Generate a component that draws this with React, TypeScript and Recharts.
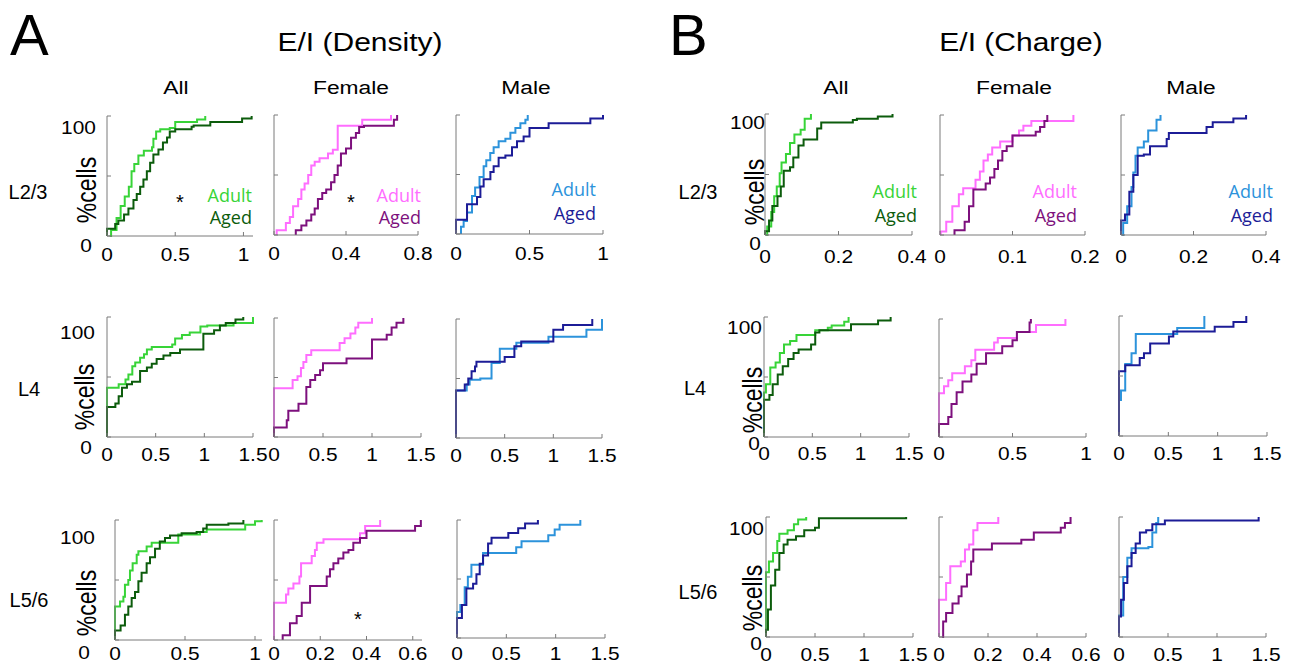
import React from "react";
import { LineChart, Line, XAxis, YAxis } from "recharts";

type Pt = [number, number]; // [E/I ratio, cumulative % of cells]

// ---- E/I (Density) ----
const dAllL23Adult: Pt[] = [[0.02, 0], [0.03, 5], [0.07, 15], [0.1, 25], [0.13, 33], [0.16, 41], [0.18, 54], [0.2, 60], [0.23, 67], [0.27, 71], [0.33, 74], [0.34, 81], [0.36, 87], [0.39, 89], [0.46, 90], [0.5, 95], [0.66, 97], [0.72, 100]];
const dAllL23Aged: Pt[] = [[0, 0], [0, 6], [0.06, 10], [0.083, 13], [0.125, 18], [0.157, 23], [0.194, 30], [0.218, 35], [0.243, 41], [0.267, 47], [0.292, 54], [0.316, 61], [0.34, 68], [0.377, 72], [0.41, 78], [0.44, 82], [0.46, 87], [0.5, 89], [0.62, 91], [0.635, 92], [0.757, 95], [0.99, 98], [1.06, 100]];
const dFemL23Adult: Pt[] = [[0.015, 0], [0.015, 4], [0.066, 10], [0.088, 15], [0.106, 24], [0.134, 30], [0.152, 38], [0.17, 43], [0.19, 50], [0.207, 58], [0.226, 61], [0.253, 64], [0.3, 68], [0.327, 71], [0.354, 91], [0.49, 96], [0.65, 100]];
const dFemL23Aged: Pt[] = [[0.121, 0], [0.121, 4], [0.152, 8], [0.18, 12], [0.207, 17], [0.226, 22], [0.244, 30], [0.268, 35], [0.29, 38], [0.317, 44], [0.336, 50], [0.354, 58], [0.372, 68], [0.4, 72], [0.428, 81], [0.455, 85], [0.473, 90], [0.5, 91], [0.666, 96], [0.684, 100]];
const dMalL23Adult: Pt[] = [[0.034, 0], [0.034, 6], [0.052, 11], [0.075, 18], [0.109, 32], [0.13, 39], [0.16, 48], [0.188, 57], [0.206, 62], [0.233, 68], [0.256, 73], [0.29, 78], [0.336, 80], [0.37, 85], [0.404, 89], [0.438, 93], [0.472, 96], [0.488, 100]];
const dMalL23Aged: Pt[] = [[0, 0], [0, 12], [0.075, 25], [0.143, 31], [0.166, 40], [0.188, 46], [0.234, 52], [0.256, 57], [0.29, 64], [0.336, 66], [0.381, 73], [0.415, 78], [0.46, 82], [0.5, 89], [0.63, 93], [0.914, 97], [1.0, 100]];

const dAllL4Adult: Pt[] = [[0, 0], [0, 41], [0.12, 44], [0.19, 48], [0.22, 52], [0.26, 59], [0.29, 62], [0.34, 66], [0.38, 69], [0.41, 73], [0.46, 75], [0.67, 77], [0.7, 82], [0.77, 85], [0.85, 87], [0.96, 92], [1.03, 93], [1.3, 95], [1.5, 100]];
const dAllL4Aged: Pt[] = [[0, 0], [0, 25], [0.086, 28], [0.12, 34], [0.154, 41], [0.205, 44], [0.257, 46], [0.34, 55], [0.41, 58], [0.46, 61], [0.51, 65], [0.58, 68], [0.65, 70], [0.75, 73], [0.99, 86], [1.1, 89], [1.16, 93], [1.22, 95], [1.32, 98], [1.4, 100]];
const dFemL4Adult: Pt[] = [[0, 0], [0, 41], [0.19, 48], [0.24, 51], [0.275, 58], [0.3, 63], [0.33, 69], [0.38, 73], [0.67, 79], [0.72, 83], [0.78, 87], [0.83, 92], [0.86, 96], [1.0, 100]];
const dFemL4Aged: Pt[] = [[0, 0], [0, 8], [0.13, 14], [0.146, 22], [0.25, 28], [0.33, 42], [0.37, 48], [0.42, 52], [0.47, 56], [0.5, 62], [0.74, 66], [1.0, 82], [1.15, 86], [1.2, 92], [1.25, 96], [1.32, 100]];
const dMalL4Adult: Pt[] = [[0, 0], [0, 40], [0.11, 45], [0.14, 49], [0.25, 50], [0.365, 63], [0.45, 75], [0.62, 80], [0.95, 85], [1.34, 91], [1.5, 100]];
const dMalL4Aged: Pt[] = [[0, 0], [0, 40], [0.09, 45], [0.126, 50], [0.16, 56], [0.195, 60], [0.21, 64], [0.5, 68], [0.6, 77], [0.67, 81], [1.0, 91], [1.1, 95], [1.4, 100]];

const dAllL56Adult: Pt[] = [[0, 0], [0, 28], [0.036, 32], [0.06, 36], [0.071, 46], [0.095, 50], [0.107, 58], [0.126, 64], [0.155, 71], [0.167, 74], [0.226, 78], [0.262, 81], [0.452, 88], [0.607, 90], [0.655, 92], [0.93, 96], [1.0, 99], [1.048, 100]];
const dAllL56Aged: Pt[] = [[0, 0], [0, 8], [0.04, 12], [0.071, 21], [0.095, 28], [0.119, 35], [0.143, 40], [0.167, 49], [0.19, 56], [0.226, 64], [0.25, 69], [0.286, 76], [0.32, 82], [0.357, 85], [0.393, 87], [0.476, 89], [0.583, 90], [0.63, 93], [0.655, 96], [0.81, 97], [0.917, 100]];
const dFemL56Adult: Pt[] = [[0, 0], [0, 31], [0.052, 38], [0.062, 43], [0.084, 47], [0.11, 53], [0.117, 64], [0.163, 70], [0.177, 75], [0.185, 81], [0.214, 84], [0.372, 89], [0.394, 95], [0.459, 100]];
const dFemL56Aged: Pt[] = [[0.0375, 0], [0.0375, 4], [0.069, 14], [0.098, 20], [0.12, 31], [0.156, 45], [0.228, 53], [0.242, 59], [0.257, 64], [0.278, 68], [0.3, 73], [0.322, 75], [0.343, 81], [0.372, 85], [0.4, 91], [0.61, 95], [0.635, 100]];
const dMalL56Adult: Pt[] = [[0, 0], [0, 22], [0.034, 28], [0.078, 43], [0.11, 52], [0.146, 62], [0.264, 72], [0.6, 77], [0.654, 82], [0.925, 87], [0.99, 92], [1.04, 96], [1.25, 100]];
const dMalL56Aged: Pt[] = [[0, 0], [0, 17], [0.05, 28], [0.095, 42], [0.163, 46], [0.197, 54], [0.23, 63], [0.264, 70], [0.315, 80], [0.35, 85], [0.52, 89], [0.62, 93], [0.69, 97], [0.82, 100]];

// ---- E/I (Charge) ----
const cAllL23Adult: Pt[] = [[0.002, 0], [0.006, 7], [0.017, 19], [0.025, 32], [0.032, 40], [0.04, 51], [0.045, 60], [0.057, 67], [0.068, 76], [0.08, 83], [0.097, 87], [0.108, 96], [0.125, 100]];
const cAllL23Aged: Pt[] = [[0, 0], [0, 3], [0.011, 12], [0.02, 24], [0.034, 32], [0.043, 40], [0.051, 53], [0.068, 56], [0.077, 64], [0.091, 74], [0.105, 79], [0.142, 88], [0.153, 93], [0.239, 95], [0.25, 96], [0.307, 98], [0.347, 100]];
const cFemL23Adult: Pt[] = [[0.001, 0], [0.001, 3], [0.0086, 11], [0.017, 24], [0.026, 34], [0.032, 39], [0.049, 46], [0.055, 53], [0.06, 62], [0.066, 67], [0.072, 73], [0.083, 78], [0.1, 83], [0.109, 87], [0.115, 91], [0.126, 95], [0.184, 100]];
const cFemL23Aged: Pt[] = [[0.02, 0], [0.02, 4], [0.034, 11], [0.04, 24], [0.046, 38], [0.063, 43], [0.069, 48], [0.075, 55], [0.08, 62], [0.086, 70], [0.092, 74], [0.1, 83], [0.132, 86], [0.138, 90], [0.144, 95], [0.148, 100]];
const cMalL23Adult: Pt[] = [[0.003, 0], [0.006, 10], [0.017, 24], [0.029, 40], [0.034, 52], [0.04, 66], [0.046, 73], [0.063, 78], [0.075, 87], [0.098, 96], [0.109, 100]];
const cMalL23Aged: Pt[] = [[0, 0], [0, 12], [0.011, 17], [0.023, 36], [0.034, 50], [0.046, 66], [0.063, 67], [0.08, 74], [0.126, 80], [0.132, 85], [0.236, 90], [0.253, 94], [0.31, 97], [0.345, 100]];

const cAllL4Adult: Pt[] = [[0, 0], [0, 37], [0.02, 44], [0.065, 58], [0.12, 62], [0.164, 70], [0.207, 77], [0.27, 80], [0.336, 85], [0.53, 89], [0.66, 91], [0.7, 93], [0.83, 96], [0.875, 100]];
const cAllL4Aged: Pt[] = [[0, 0], [0, 31], [0.056, 35], [0.09, 44], [0.142, 52], [0.194, 59], [0.25, 65], [0.306, 70], [0.358, 73], [0.487, 77], [0.53, 87], [0.573, 89], [0.9, 94], [1.18, 97], [1.31, 100]];
const cFemL4Adult: Pt[] = [[0, 0], [0, 37], [0.034, 43], [0.063, 48], [0.09, 54], [0.176, 60], [0.22, 65], [0.247, 74], [0.375, 80], [0.4, 84], [0.53, 89], [0.66, 95], [0.86, 100]];
const cFemL4Aged: Pt[] = [[0, 0], [0, 11], [0.063, 17], [0.085, 28], [0.12, 38], [0.16, 47], [0.22, 53], [0.256, 62], [0.32, 71], [0.43, 77], [0.5, 82], [0.53, 89], [0.616, 97], [0.625, 100]];
const cMalL4Adult: Pt[] = [[0, 0], [0, 30], [0.02, 38], [0.063, 60], [0.127, 69], [0.17, 85], [0.59, 90], [0.865, 100]];
const cMalL4Aged: Pt[] = [[0, 0], [0, 54], [0.063, 59], [0.21, 65], [0.253, 69], [0.316, 77], [0.506, 83], [0.55, 87], [0.97, 91], [1.16, 95], [1.29, 100]];

const cAllL56Adult: Pt[] = [[0, 0], [0, 54], [0.03, 63], [0.072, 70], [0.115, 80], [0.136, 86], [0.22, 89], [0.285, 94], [0.328, 98], [0.41, 100]];
const cAllL56Aged: Pt[] = [[0, 0], [0, 6], [0.02, 23], [0.05, 43], [0.094, 56], [0.136, 70], [0.18, 77], [0.22, 81], [0.306, 84], [0.39, 89], [0.5, 91], [0.54, 99], [1.43, 100]];
const cFemL56Adult: Pt[] = [[0, 0], [0, 31], [0.029, 45], [0.046, 59], [0.089, 63], [0.106, 73], [0.123, 77], [0.14, 89], [0.157, 95], [0.242, 100]];
const cFemL56Aged: Pt[] = [[0.012, 0], [0.017, 13], [0.029, 20], [0.055, 28], [0.08, 34], [0.092, 42], [0.114, 52], [0.131, 63], [0.14, 73], [0.216, 78], [0.336, 81], [0.387, 87], [0.497, 91], [0.514, 95], [0.537, 100]];
const cMalL56Adult: Pt[] = [[0, 0], [0, 18], [0.043, 50], [0.085, 66], [0.128, 74], [0.3, 75], [0.34, 87], [0.38, 95], [0.4, 100]];
const cMalL56Aged: Pt[] = [[0, 0], [0, 17], [0.021, 31], [0.05, 45], [0.085, 59], [0.128, 70], [0.17, 78], [0.213, 87], [0.277, 89], [0.34, 94], [0.468, 97], [1.425, 100]];

// x tick values
const t0_1 = [0, 0.5, 1];
const t0_08 = [0, 0.4, 0.8];
const t0_15 = [0, 0.5, 1, 1.5];
const t0_06 = [0, 0.2, 0.4, 0.6];
const t0_04 = [0, 0.2, 0.4];
const t0_02 = [0, 0.1, 0.2];
const yTicks = [0, 50, 100];

const AXIS = "#7a7a7a";
const FONT = "'Liberation Sans', Arial, sans-serif";
const LEG_FONT = "'Open Sans', sans-serif";
const SX = 1.2; // the figure is stretched a bit horizontally
const TICK_FS = 19;
const TICK_SX = 1.1;

const colors = {
  all: { adult: "#38d438", aged: "#0c5c0c" },
  female: { adult: "#ff6dff", aged: "#7d107d" },
  male: { adult: "#2c93db", aged: "#1c1c97" },
};

interface YLab { gap100: number; gap0: number; dy100: number; dy0: number }
interface PlotCfg {
  adult: Pt[]; aged: Pt[]; col: { adult: string; aged: string };
  xMax: number; ticks: number[];
  left: number; top: number; w: number; h: number;
  xLab: number; yl?: YLab;
}

const ylA1: YLab = { gap100: 11, gap0: 15, dy100: 11, dy0: 9 };
const ylA2: YLab = { gap100: 12, gap0: 15, dy100: 15, dy0: 10 };
const ylA3: YLab = { gap100: 20, gap0: 25, dy100: 17, dy0: 12 };
const ylB1: YLab = { gap100: 0, gap0: 4, dy100: 8, dy0: 8 };
const ylB2: YLab = { gap100: 2, gap0: 4, dy100: 10, dy0: 6 };
const ylB3: YLab = { gap100: 2, gap0: 4, dy100: 11, dy0: 6 };

const plots: PlotCfg[] = [
  // A — density
  { adult: dAllL23Adult, aged: dAllL23Aged, col: colors.all, xMax: 1.07, ticks: t0_1, left: 107, top: 116, w: 146, h: 120, xLab: 18, yl: ylA1 },
  { adult: dFemL23Adult, aged: dFemL23Aged, col: colors.female, xMax: 0.8, ticks: t0_08, left: 274, top: 115, w: 144, h: 120, xLab: 18 },
  { adult: dMalL23Adult, aged: dMalL23Aged, col: colors.male, xMax: 1, ticks: t0_1, left: 456, top: 115, w: 147, h: 119, xLab: 19 },
  { adult: dAllL4Adult, aged: dAllL4Aged, col: colors.all, xMax: 1.5, ticks: t0_15, left: 107, top: 317, w: 146, h: 120, xLab: 17, yl: ylA2 },
  { adult: dFemL4Adult, aged: dFemL4Aged, col: colors.female, xMax: 1.5, ticks: t0_15, left: 274, top: 318, w: 147, h: 119, xLab: 17 },
  { adult: dMalL4Adult, aged: dMalL4Aged, col: colors.male, xMax: 1.5, ticks: t0_15, left: 456, top: 319, w: 146, h: 119, xLab: 17 },
  { adult: dAllL56Adult, aged: dAllL56Aged, col: colors.all, xMax: 1.05, ticks: t0_1, left: 115, top: 520, w: 147, h: 120, xLab: 13, yl: ylA3 },
  { adult: dFemL56Adult, aged: dFemL56Aged, col: colors.female, xMax: 0.64, ticks: t0_06, left: 274, top: 520, w: 148, h: 120, xLab: 13 },
  { adult: dMalL56Adult, aged: dMalL56Aged, col: colors.male, xMax: 1.5, ticks: t0_15, left: 457, top: 520, w: 148, h: 118, xLab: 15 },
  // B — charge
  { adult: cAllL23Adult, aged: cAllL23Aged, col: colors.all, xMax: 0.4, ticks: t0_04, left: 765, top: 114, w: 147, h: 121, xLab: 21, yl: ylB1 },
  { adult: cFemL23Adult, aged: cFemL23Aged, col: colors.female, xMax: 0.2, ticks: t0_02, left: 940, top: 115, w: 145, h: 120, xLab: 21 },
  { adult: cMalL23Adult, aged: cMalL23Aged, col: colors.male, xMax: 0.4, ticks: t0_04, left: 1121, top: 115, w: 145, h: 120, xLab: 21 },
  { adult: cAllL4Adult, aged: cAllL4Aged, col: colors.all, xMax: 1.5, ticks: t0_15, left: 764, top: 317, w: 145, h: 120, xLab: 16, yl: ylB2 },
  { adult: cFemL4Adult, aged: cFemL4Aged, col: colors.female, xMax: 1, ticks: t0_1, left: 939, top: 319, w: 147, h: 118, xLab: 16 },
  { adult: cMalL4Adult, aged: cMalL4Aged, col: colors.male, xMax: 1.5, ticks: t0_15, left: 1119, top: 316, w: 148, h: 120, xLab: 17 },
  { adult: cAllL56Adult, aged: cAllL56Aged, col: colors.all, xMax: 1.5, ticks: t0_15, left: 766, top: 517, w: 147, h: 120, xLab: 17, yl: ylB3 },
  { adult: cFemL56Adult, aged: cFemL56Aged, col: colors.female, xMax: 0.6, ticks: t0_06, left: 939, top: 517, w: 147, h: 120, xLab: 17 },
  { adult: cMalL56Adult, aged: cMalL56Aged, col: colors.male, xMax: 1.5, ticks: t0_15, left: 1119, top: 517, w: 147, h: 120, xLab: 17 },
];

// axis boxes are 1px thick, so the margins are 1px smaller on those sides
const AX = 1;
const M = { top: 10, right: 26, bottom: 38, left: 72 };

const rows = (pts: Pt[]) => pts.map(([x, y]) => ({ x, y }));

function Txt(props: {
  x: number; y: number; size: number; children: React.ReactNode;
  anchor?: "start" | "middle" | "end"; fill?: string; rotate?: number; sx?: number; family?: string;
}) {
  const { x, y, size, children, anchor = "middle", fill = "#000", rotate = 0, sx = SX, family = FONT } = props;
  const tr = `translate(${x},${y}) scale(${sx},1)` + (rotate ? ` rotate(${rotate})` : "");
  return (
    <text transform={tr} fontSize={size} fontFamily={family} textAnchor={anchor} dominantBaseline="central" fill={fill}>
      {children}
    </text>
  );
}

function CdfPlot({ p }: { p: PlotCfg }) {
  const xTick = (props: any) => {
    const { x, y, payload } = props;
    return (
      <g>
        <line x1={x} y1={y} x2={x} y2={y - 4} stroke={AXIS} />
        <Txt x={x} y={y + p.xLab} size={TICK_FS} sx={TICK_SX}>{String(payload.value)}</Txt>
      </g>
    );
  };
  const yTick = (props: any) => {
    const { x, y, payload } = props;
    const v = payload.value;
    const yl = p.yl;
    return (
      <g>
        <line x1={x} y1={y} x2={x + 4} y2={y} stroke={AXIS} />
        {yl && v === 100 && <Txt x={x - yl.gap100} y={y + yl.dy100} size={TICK_FS} sx={TICK_SX} anchor="end">100</Txt>}
        {yl && v === 0 && <Txt x={x - yl.gap0} y={y + yl.dy0} size={TICK_FS} sx={TICK_SX} anchor="end">0</Txt>}
      </g>
    );
  };
  const margin = { top: M.top, right: M.right, bottom: M.bottom - AX, left: M.left - AX };
  return (
    <div style={{ position: "absolute", left: p.left - M.left, top: p.top - M.top }}>
      <LineChart width={p.w + M.left + M.right} height={p.h + M.top + M.bottom} margin={margin}>
        <XAxis type="number" dataKey="x" domain={[0, p.xMax]} ticks={p.ticks} interval={0} height={AX}
          tickSize={0} tickMargin={0} tickLine={false} axisLine={{ stroke: AXIS }} tick={xTick} />
        <YAxis type="number" dataKey="y" domain={[0, 100]} ticks={yTicks} interval={0} width={AX}
          tickSize={0} tickMargin={0} tickLine={false} axisLine={{ stroke: AXIS }} tick={yTick} />
        <Line data={rows(p.adult)} dataKey="y" type="stepAfter" stroke={p.col.adult} strokeWidth={2}
          dot={false} activeDot={false} isAnimationActive={false} />
        <Line data={rows(p.aged)} dataKey="y" type="stepAfter" stroke={p.col.aged} strokeWidth={2}
          dot={false} activeDot={false} isAnimationActive={false} />
      </LineChart>
    </div>
  );
}

function Legend({ right, y1, y2, col }: { right: number; y1: number; y2: number; col: { adult: string; aged: string } }) {
  return (
    <g>
      <Txt x={right} y={y1} size={18} anchor="end" fill={col.adult} sx={1} family={LEG_FONT}>Adult</Txt>
      <Txt x={right} y={y2} size={18} anchor="end" fill={col.aged} sx={1} family={LEG_FONT}>Aged</Txt>
    </g>
  );
}

function Star({ x, y }: { x: number; y: number }) {
  return <text x={x} y={y + 11} fontSize={20} fontFamily={FONT} textAnchor="middle">*</text>;
}

export default function App() {
  return (
    <div style={{ position: "absolute", left: 0, top: 0, width: 1293, height: 666, background: "#fff", overflow: "hidden" }}>
      {plots.map((p, i) => <CdfPlot key={i} p={p} />)}
      <svg width={1293} height={666} style={{ position: "absolute", left: 0, top: 0, pointerEvents: "none" }}>
        <Txt x={10} y={34} size={58} anchor="start" sx={1}>A</Txt>
        <Txt x={669} y={34} size={58} anchor="start" sx={1}>B</Txt>
        <Txt x={360} y={42} size={25}>E/I (Density)</Txt>
        <Txt x={1021} y={42} size={25}>E/I (Charge)</Txt>

        <Txt x={176} y={87} size={19}>All</Txt>
        <Txt x={351} y={87} size={19}>Female</Txt>
        <Txt x={526} y={87} size={19}>Male</Txt>
        <Txt x={836} y={87} size={19}>All</Txt>
        <Txt x={1014} y={87} size={19}>Female</Txt>
        <Txt x={1191} y={87} size={19}>Male</Txt>

        <Txt x={28} y={192} size={20} sx={1}>L2/3</Txt>
        <Txt x={29} y={389} size={20} sx={1}>L4</Txt>
        <Txt x={29} y={600} size={20} sx={1}>L5/6</Txt>
        <Txt x={698} y={192} size={20} sx={1}>L2/3</Txt>
        <Txt x={695} y={388} size={20} sx={1}>L4</Txt>
        <Txt x={698} y={592} size={20} sx={1}>L5/6</Txt>

        <Txt x={86} y={190} size={23} rotate={-90}>%cells</Txt>
        <Txt x={84} y={397} size={23} rotate={-90}>%cells</Txt>
        <Txt x={86} y={603} size={23} rotate={-90}>%cells</Txt>
        <Txt x={754} y={192} size={23} rotate={-90}>%cells</Txt>
        <Txt x={752} y={400} size={23} rotate={-90}>%cells</Txt>
        <Txt x={752} y={598} size={23} rotate={-90}>%cells</Txt>

        <Legend right={252} y1={195} y2={217} col={colors.all} />
        <Legend right={421} y1={195} y2={217} col={colors.female} />
        <Legend right={596} y1={189} y2={213} col={colors.male} />
        <Legend right={917} y1={191} y2={215} col={colors.all} />
        <Legend right={1077} y1={191} y2={215} col={colors.female} />
        <Legend right={1273} y1={191} y2={215} col={colors.male} />

        <Star x={180} y={198} />
        <Star x={351} y={198} />
        <Star x={358} y={615} />
      </svg>
    </div>
  );
}
